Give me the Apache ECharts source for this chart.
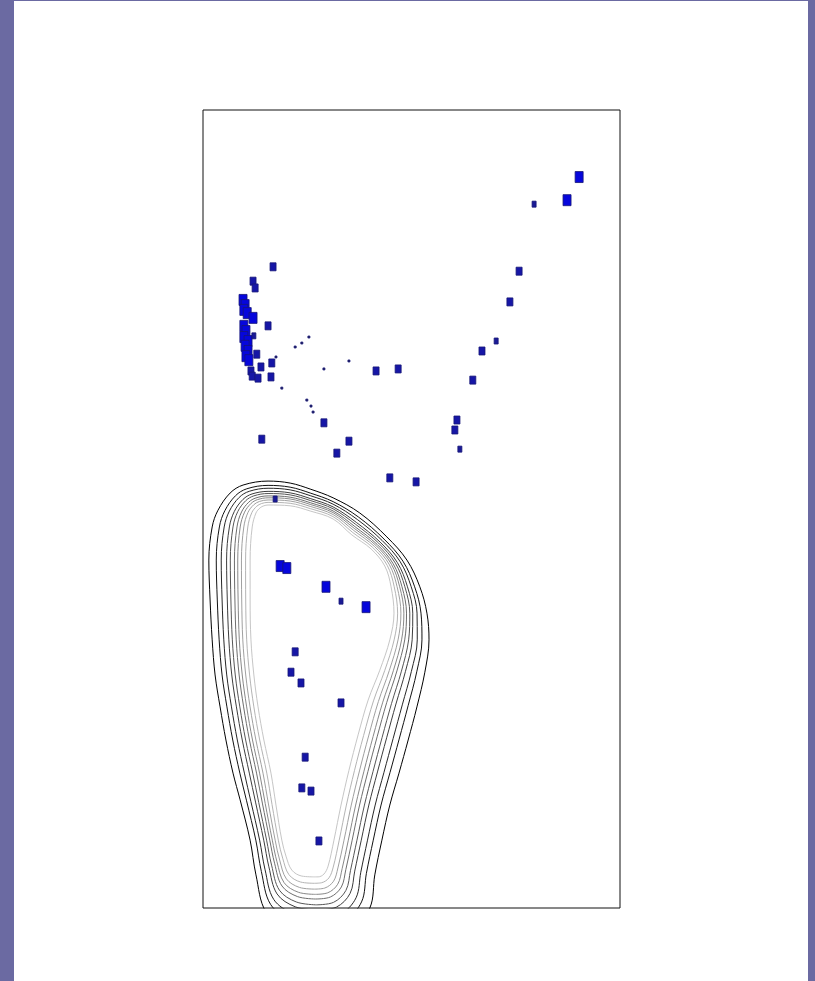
<!DOCTYPE html>
<html>
<head>
<meta charset="utf-8">
<script src="https://cdn.jsdelivr.net/npm/echarts@6/dist/echarts.min.js"></script>
<style>
  html, body { margin: 0; padding: 0; background: #6b6aa2; }
  #panel { position: absolute; left: 14px; top: 1px; width: 794px; height: 980px; background: #ffffff; }
  #chart { position: absolute; left: 0; top: 0; width: 815px; height: 981px; }
</style>
</head>
<body>
<div id="panel"></div>
<div id="chart"></div>
<script>
// ---- scatter data (x: 0-100, y: 0-200), weight: 0 tiny, 1 small, 2 medium, 3 large ----
const groupInX = [18.5, 20.1, 29.5, 33.1, 39.1, 22.1, 21.1, 23.5, 33.1, 24.5, 23.7, 25.9, 27.8, 17.3];
const groupInY = [85.7, 85.2, 80.5, 76.9, 75.4, 64.2, 59.1, 56.4, 51.4, 37.8, 30.1, 29.3, 16.8, 102.5];
const groupInW = [3, 3, 3, 1, 3, 2, 2, 2, 2, 2, 2, 2, 2, 1];

const groupOutX = [
  90.2, 87.3, 79.4, 75.8, 73.6, 70.3, 66.9, 64.7, 60.9, 60.4, 61.6,
  46.8, 41.5, 51.1, 44.8, 35.0, 32.1, 29.0, 14.1,
  25.4, 23.7, 22.1, 17.5, 18.9, 24.9, 25.9, 26.4, 29.0, 35.0,
  16.8, 12.0, 12.5, 9.6, 10.1, 9.8, 10.6, 12.0, 15.6, 9.8, 10.3, 9.8, 10.8, 10.1, 10.8, 10.3, 11.0,
  12.2, 12.9, 13.9, 16.5, 11.5, 11.8, 13.2, 16.3
];
const groupOutY = [
  183.2, 177.4, 176.4, 159.6, 151.9, 142.1, 139.6, 132.3, 122.3, 119.8, 115.0,
  135.1, 134.6, 106.8, 107.8, 117.0, 114.0, 121.6, 117.5,
  143.1, 141.6, 140.6, 138.1, 130.3, 127.3, 125.8, 124.3, 135.1, 137.1,
  160.7, 157.1, 155.4, 152.4, 151.1, 149.9, 149.1, 147.9, 145.9, 145.9, 144.6, 143.1, 142.1, 140.9, 139.6, 138.3, 137.3,
  143.4, 138.8, 135.6, 136.6, 134.6, 133.3, 132.8, 133.1
];
const groupOutW = [
  3, 3, 1, 2, 2, 1, 2, 2, 2, 2, 1,
  2, 2, 2, 2, 2, 2, 2, 2,
  0, 0, 0, 0, 0, 0, 0, 0, 0, 0,
  2, 2, 2, 3, 3, 3, 3, 3, 2, 3, 3, 3, 3, 3, 3, 3, 3,
  1, 2, 2, 2, 2, 2, 2, 2
];

// ---- contour family: outermost and innermost level paths, and level positions across the band ----
const contourOuterX = [27.6, 20.9, 15.1, 12.7, 11.3, 8.9, 7.2, 5.5, 4.1, 2.9, 2.2, 1.7, 1.4, 2.2, 3.6, 6.5, 9.6, 15.6, 20.9, 25.7, 31.2, 37.6, 44.1, 48.9, 52.0, 53.7, 54.2, 53.2, 51.3, 49.2, 47.0, 44.8, 42.9, 41.2, 40.0, 35.3, 27.6];
const contourOuterY = [-6.8, -5.5, -1.0, 8.3, 17.0, 27.1, 33.8, 42.1, 50.4, 58.4, 67.2, 77.2, 87.2, 95.5, 99.7, 104.0, 106.0, 107.0, 106.5, 105.0, 102.8, 99.0, 93.0, 87.2, 80.5, 73.9, 67.2, 59.1, 50.4, 42.1, 33.8, 25.8, 17.0, 8.3, 0.0, -5.5, -6.8];
const contourInnerX = [26.6, 23.7, 21.3, 19.9, 18.9, 17.5, 16.3, 14.6, 13.2, 12.2, 11.5, 11.3, 11.3, 11.8, 12.7, 13.7, 14.6, 15.6, 20.9, 25.7, 31.2, 35.7, 40.3, 43.6, 45.1, 45.8, 44.8, 42.4, 39.6, 37.2, 35.0, 33.1, 31.4, 30.0, 29.0, 27.6, 26.6];
const contourInnerY = [7.8, 8.0, 9.5, 13.0, 17.0, 25.8, 33.8, 42.1, 50.4, 58.4, 67.2, 77.2, 87.2, 95.5, 99.0, 100.3, 100.8, 101.0, 100.8, 99.5, 97.5, 93.5, 90.0, 85.7, 80.5, 73.9, 67.2, 59.6, 52.1, 43.4, 34.5, 25.8, 17.0, 10.5, 8.5, 7.8, 7.8];
const contourLevels = [0, 0.18, 0.30, 0.43, 0.52, 0.62, 0.70, 0.79, 0.89, 1.0];
const contourColors = ['#000000', '#111111', '#262626', '#3c3c3c', '#555555', '#6e6e6e', '#888888', '#a0a0a0', '#b4b4b4', '#c6c6c6'];

const sizeByWeight = { 0: [2, 2], 1: [4, 6], 2: [6, 8], 3: [8, 11] };
const fillByWeight = { 0: '#2a2a55', 1: '#1a1a96', 2: '#1616a6', 3: '#0606dc' };

const chart = echarts.init(document.getElementById('chart'), null, { renderer: 'canvas' });

const contourSeries = contourLevels.map(function (t, k) {
  const pts = contourOuterX.map(function (ox, i) {
    return [ox + t * (contourInnerX[i] - ox), contourOuterY[i] + t * (contourInnerY[i] - contourOuterY[i])];
  });
  return {
    type: 'line', data: pts, showSymbol: false, symbol: 'none', smooth: 0.35, clip: true,
    silent: true, z: 1,
    lineStyle: { color: contourColors[k], width: 1 }
  };
});

function pointData(xs, ys, ws) {
  return xs.map(function (x, i) { return [x, ys[i], ws[i]]; });
}

const scatterStyle = {
  type: 'scatter', symbol: 'rect', z: 5, silent: true,
  symbolSize: function (v) { return sizeByWeight[v[2]]; },
  itemStyle: {
    opacity: 1,
    color: function (p) { return fillByWeight[p.data[2]]; },
    borderColor: '#161678', borderWidth: 0.8
  }
};

chart.setOption({
  animation: false,
  backgroundColor: 'transparent',
  grid: { left: 203, top: 110, width: 417, height: 798, show: true, borderColor: '#111', borderWidth: 1, backgroundColor: '#ffffff' },
  xAxis: { type: 'value', min: 0, max: 100, show: false },
  yAxis: { type: 'value', min: 0, max: 200, show: false },
  series: contourSeries.concat([
    Object.assign({ name: 'inside', data: pointData(groupInX, groupInY, groupInW) }, scatterStyle),
    Object.assign({ name: 'outside', data: pointData(groupOutX, groupOutY, groupOutW) }, scatterStyle)
  ])
});
</script>
</body>
</html>
